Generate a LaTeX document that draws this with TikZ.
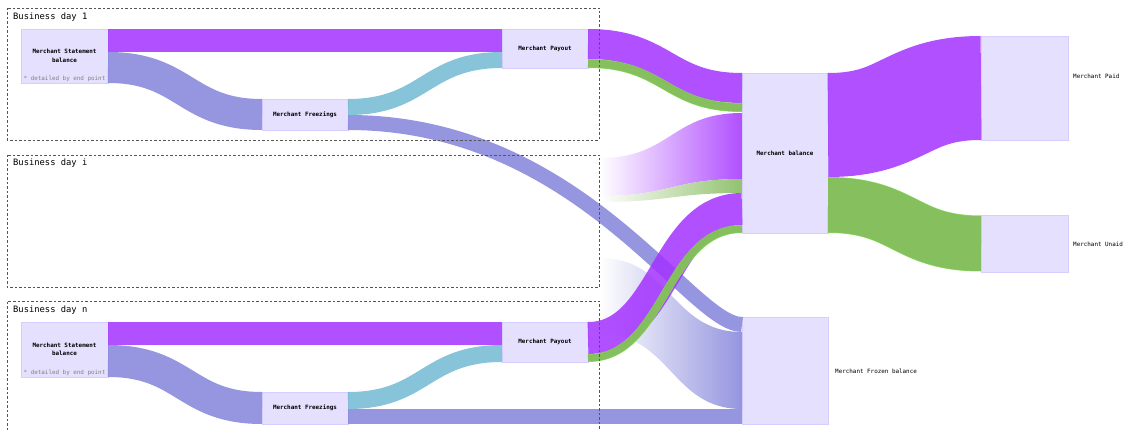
\documentclass[tikz,border=0pt]{standalone}
\usepackage{fontspec}
\setmonofont{DejaVu Sans Mono}
\usetikzlibrary{calc}

\definecolor{acctfill}{HTML}{E6E0FF}
\definecolor{acctline}{HTML}{D6CEFF}
\definecolor{paycol}{HTML}{A331FF}
\definecolor{frzcol}{HTML}{8282DA}
\definecolor{backcol}{HTML}{72B8D2}
\definecolor{unpaidcol}{HTML}{86BB5F}
\definecolor{unpaidedge}{HTML}{7FE050}
\definecolor{framecol}{HTML}{555555}

\tikzset{
  acct/.style={draw=acctline, fill=acctfill, line width=0.6pt, outer sep=0pt, inner sep=0pt,
    anchor=north west, align=center, font=\fontsize{5.9}{8.5}\selectfont\ttfamily\bfseries},
  acctnote/.style={inner sep=0pt, text=gray, font=\fontsize{5.9}{7}\selectfont\ttfamily},
  sidelbl/.style={anchor=west, inner sep=0pt, font=\fontsize{5.9}{7}\selectfont\ttfamily},
  daybox/.style={draw=framecol, dash pattern=on 2.5pt off 2pt, line width=0.6pt},
  daylbl/.style={anchor=west, inner sep=0pt, font=\fontsize{8.8}{10}\selectfont\ttfamily},
  payflow/.style={draw=paycol, draw opacity=0.85, line width=#1},
  frzflow/.style={draw=frzcol, draw opacity=0.85, line width=#1},
  backflow/.style={draw=backcol, draw opacity=0.85, line width=#1},
  unpaidflow/.style={draw=unpaidedge, line width=0.5pt, double=unpaidcol, double distance=#1-1pt, draw opacity=0.9},
  fadepay/.style={left color=white, right color=paycol!85!white},
  fadeunpaid/.style={left color=white, right color=unpaidcol!90!white},
  fadefrz/.style={left color=white, right color=frzcol!85!white},
}

% flow stroke between two points, bent at half way
\newcommand\flow[3]{%
  \draw[#1] let \p1=#2, \p2=#3, \n1={(\x1+\x2)/2} in
    (\p1) .. controls (\n1,\y1) and (\n1,\y2) .. (\p2);}
% faded band: style, from top, from bottom, to top, to bottom
\newcommand\fadeband[5]{%
  \path[#1] let \p1=#2, \p2=#3, \p3=#4, \p4=#5, \n1={(\x1+\x3)/2} in
    (\p1) .. controls (\n1,\y1) and (\n1,\y3) .. (\p3) -- (\p4)
    .. controls (\n1,\y4) and (\n1,\y2) .. (\p2) -- cycle;}

\begin{document}
\begin{tikzpicture}[x=1pt, y=-1pt]
\useasboundingbox (0,0) rectangle (1126,430);

% accounts
\node[acct, minimum width=87pt, minimum height=54pt] (msbA) at (21,29) {Merchant Statement\\balance};
\node[acctnote, above=1.5pt] (msbAnote) at (msbA.south) {* detailed by end point};
\node[acct, minimum width=86pt, minimum height=31pt] (frzA) at (262,99) {Merchant Freezings};
\node[acct, minimum width=86pt, minimum height=39pt] (payA) at (502,29) {Merchant Payout};

\node[acct, minimum width=87pt, minimum height=55pt] (msbN) at (21,322) {Merchant Statement\\balance};
\node[acctnote, above=1.5pt] (msbNnote) at (msbN.south) {* detailed by end point};
\node[acct, minimum width=86pt, minimum height=32pt] (frzN) at (262,392) {Merchant Freezings};
\node[acct, minimum width=86pt, minimum height=40pt] (payN) at (502,322) {Merchant Payout};

\node[acct, minimum width=86pt, minimum height=160pt] (bal) at (742,73) {Merchant balance};
\node[acct, minimum width=86pt, minimum height=107pt] (frozen) at (742,317) {};
\node[acct, minimum width=87pt, minimum height=104pt] (mpaid) at (981,36) {};
\node[acct, minimum width=87pt, minimum height=57pt] (munpaid) at (981,215) {};

\node[sidelbl] (mpaidlbl) at (1073,76) {Merchant Paid};
\node[sidelbl] (munpaidlbl) at (1073,244) {Merchant Unaid};
\node[sidelbl] (frozenlbl) at (835,371) {Merchant Frozen balance};

% business day i (faded in)
\coordinate (iPayTop) at (600,158);
\coordinate (iPayMid) at (600,196);
\coordinate (iPayBot) at (600,202);
\coordinate (iFrzTop) at (600,258);
\coordinate (iFrzBot) at (600,334);
\fadeband{fadepay}{(iPayTop)}{(iPayMid)}{([yshift=-40pt]bal.north west)}{([yshift=-106pt]bal.north west)}
\fadeband{fadeunpaid}{(iPayMid)}{(iPayBot)}{([yshift=-106pt]bal.north west)}{([yshift=-120pt]bal.north west)}
\fadeband{fadefrz}{(iFrzTop)}{(iFrzBot)}{([yshift=-15pt]frozen.north west)}{([yshift=-92pt]frozen.north west)}

% business day 1
\flow{payflow=23pt}{([yshift=-11.5pt]msbA.north east)}{([yshift=-11.5pt]payA.north west)}
\flow{frzflow=31pt}{([yshift=15.5pt]msbA.south east)}{(frzA.west)}
\flow{backflow=16pt}{([yshift=-8pt]frzA.north east)}{([yshift=8pt]payA.south west)}
\draw[frzflow=15pt] ([yshift=7.5pt]frzA.south east) .. controls +(232,0) and +(-52,0) .. ([yshift=-7.5pt]frozen.north west);
\flow{payflow=30pt}{([yshift=-15pt]payA.north east)}{([yshift=-15pt]bal.north west)}
\flow{unpaidflow=9pt}{([yshift=4.5pt]payA.south east)}{([yshift=-34.5pt]bal.north west)}

% business day n
\flow{payflow=23pt}{([yshift=-11.5pt]msbN.north east)}{([yshift=-11.5pt]payN.north west)}
\flow{frzflow=32pt}{([yshift=16pt]msbN.south east)}{(frzN.west)}
\flow{backflow=17pt}{([yshift=-8.5pt]frzN.north east)}{([yshift=8.5pt]payN.south west)}
\flow{frzflow=15pt}{([yshift=7.5pt]frzN.south east)}{([yshift=7.5pt]frozen.south west)}
\flow{payflow=32pt}{([yshift=-16pt]payN.north east)}{([yshift=-136pt]bal.north west)}
\flow{unpaidflow=8pt}{([yshift=4pt]payN.south east)}{([yshift=4pt]bal.south west)}

% balance split
\flow{payflow=104pt}{([yshift=-52pt]bal.north east)}{(mpaid.west)}
\flow{unpaidflow=56pt}{([yshift=28pt]bal.south east)}{(munpaid.west)}

% day frames
\draw[daybox] (7,8) rectangle (599,140);
\draw[daybox] (7,155) rectangle (599,287);
\draw[daybox] (7,430) |- (599,301) -- (599,430);
\node[daylbl] (dayAlbl) at (13,17) {Business day 1};
\node[daylbl] (dayIlbl) at (13,163) {Business day i};
\node[daylbl] (dayNlbl) at (13,310) {Business day n};
\end{tikzpicture}
\end{document}
